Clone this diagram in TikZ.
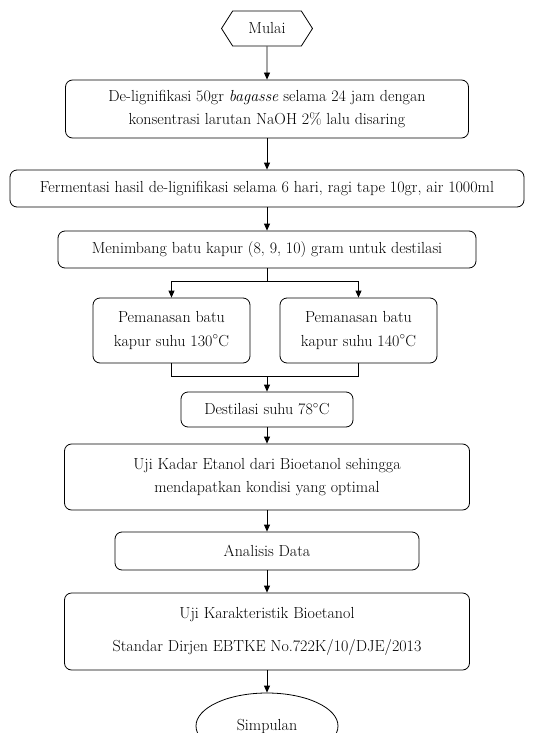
\documentclass[tikz,border=0pt]{standalone}
\usetikzlibrary{shapes.geometric,shapes.symbols,arrows.meta}
\begin{document}
\begin{tikzpicture}[x=1pt,y=-1pt,line width=0.8pt,
 box/.style={draw,rounded corners=7pt,align=center,inner sep=0pt,font=\fontsize{16}{23.5}\selectfont},
 hexa/.style={draw,shape=signal,signal to=east and west,signal pointer angle=115,inner sep=0pt,font=\fontsize{16}{23.5}\selectfont},
 oval/.style={draw,ellipse,inner sep=0pt,font=\fontsize{16}{23.5}\selectfont},
 arr/.style={-{Triangle[width=6pt,length=7pt]}}]
 \clip (0,0) rectangle (557,733);
 \node[hexa,minimum width=91pt,minimum height=35pt] (mulai) at (267,28.5) {Mulai};
 \node[box,minimum width=403pt,minimum height=58pt] (lignin) at (267,109) {De-lignifikasi 50gr \textit{bagasse} selama 24 jam dengan\\konsentrasi larutan NaOH 2\% lalu disaring};
 \node[box,minimum width=514pt,minimum height=37pt] (ferm) at (267,188.5) {Fermentasi hasil de-lignifikasi selama 6 hari, ragi tape 10gr, air 1000ml};
 \node[box,minimum width=418pt,minimum height=37pt] (kapur) at (267,249.5) {Menimbang batu kapur (8, 9, 10) gram untuk destilasi};
 \node[box,minimum width=157pt,minimum height=65pt] (panas1) at (171.5,330.5) {Pemanasan batu\\kapur suhu 130$^\circ$C};
 \node[box,minimum width=157pt,minimum height=65pt] (panas2) at (358.5,330.5) {Pemanasan batu\\kapur suhu 140$^\circ$C};
 \node[box,minimum width=172pt,minimum height=35pt] (destilasi) at (267,409.5) {Destilasi suhu 78$^\circ$C};
 \node[box,minimum width=405pt,minimum height=66pt] (ujikadar) at (267,477) {Uji Kadar Etanol dari Bioetanol sehingga\\mendapatkan kondisi yang optimal};
 \node[box,minimum width=304pt,minimum height=38pt] (analisis) at (267,551) {Analisis Data};
 \node[box,minimum width=405pt,minimum height=77pt] (karakter) at (267,631.5) {Uji Karakteristik Bioetanol\\[10pt]Standar Dirjen EBTKE No.722K/10/DJE/2013};
 \node[oval,minimum width=142pt,minimum height=66pt] (simpulan) at (267,726) {Simpulan};
 % alur
 \draw[arr] (mulai) -- (lignin);
 \draw[arr] (lignin) -- (ferm);
 \draw[arr] (ferm) -- (kapur);
 \coordinate (split) at (267,281);
 \draw (kapur) -- (split);
 \draw[arr] (split) -| (panas1.north);
 \draw[arr] (split) -| (panas2.north);
 \coordinate (merge) at (267,376);
 \draw (panas1.south) -- ++(0,13) -| (panas2.south);
 \draw[arr] (merge) -- (destilasi);
 \draw[arr] (destilasi) -- (ujikadar);
 \draw[arr] (ujikadar) -- (analisis);
 \draw[arr] (analisis) -- (karakter);
 \draw[arr] (karakter) -- (simpulan);
\end{tikzpicture}
\end{document}
